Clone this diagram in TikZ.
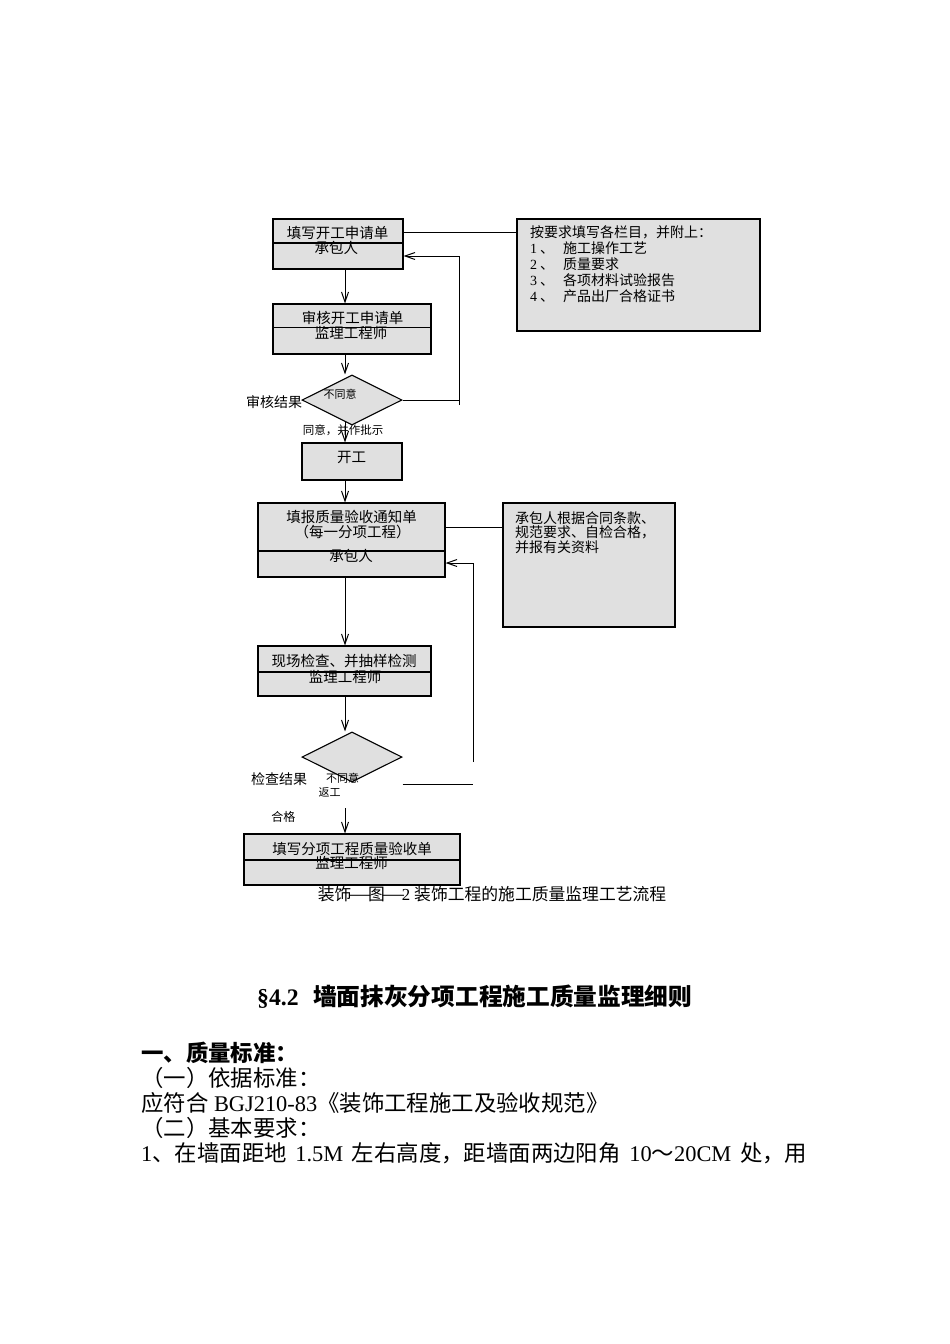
\documentclass[tikz,border=0pt]{standalone}
\usepackage{fontspec}
\usepackage{graphicx}
\setmainfont{Liberation Serif}
\newfontfamily\cjk{Noto Sans CJK SC}
\usetikzlibrary{arrows.meta,shapes.geometric}
\definecolor{boxgray}{RGB}{224,224,224}
\newcommand{\fsz}[1]{\fontsize{#1}{#1}\selectfont}
\newcommand{\en}[1]{{\rmfamily #1}}
\newcommand{\dash}{\makebox[1em][c]{\scalebox{1.6}[1]{—}}}

\begin{document}
\begin{tikzpicture}[x=1pt,y=1pt,
  box/.style={draw,fill=boxgray,line width=1.1pt,inner sep=0pt},
  decide/.style={diamond,aspect=2,draw,fill=boxgray,line width=1.1pt,inner sep=0pt,minimum width=100,minimum height=50},
  txt/.style={inner sep=0pt,font=\cjk\fsz{14.5}},
  small/.style={inner sep=0pt,font=\cjk\fsz{11}},
  item/.style={inner sep=0pt,anchor=west,font=\cjk\fsz{14}},
  body/.style={inner sep=0pt,anchor=base west,font=\cjk\fsz{22.4}},
  link/.style={line width=1pt},
  flow/.style={line width=1pt,-{Straight Barb[length=10pt,width=7pt]}}]
\useasboundingbox (0,0) rectangle (950,-1344);

% boxes of the flow
\node[box,minimum width=130,minimum height=50] (apply) at (338,-244) {};
\node[box,minimum width=158,minimum height=50] (review) at (352,-329) {};
\node[decide] (check1) at (352,-400) {};
\node[box,minimum width=100,minimum height=37] (start) at (352,-461.5) {};
\node[box,minimum width=187,minimum height=74] (notice) at (351.5,-540) {};
\node[box,minimum width=173,minimum height=50] (inspect) at (344.5,-671) {};
\node[decide] (check2) at (352,-757) {};
\node[box,minimum width=216,minimum height=51] (accept) at (352,-859.5) {};
\node[box,minimum width=243,minimum height=112] (note1) at (638.5,-275) {};
\node[box,minimum width=172,minimum height=124] (note2) at (589,-565) {};

% dividers
\draw[line width=1.1pt] ([yshift=1]apply.west) -- ([yshift=1]apply.east);
\draw[line width=1.1pt] ([yshift=1.7]review.west) -- ([yshift=1.7]review.east);
\draw[line width=1.1pt] ([yshift=-11]notice.west) -- ([yshift=-11]notice.east);
\draw[line width=1.1pt] ([yshift=-1]inspect.west) -- ([yshift=-1]inspect.east);
\draw[line width=1.1pt] ([yshift=-0.5]accept.west) -- ([yshift=-0.5]accept.east);

% box texts
\node[txt] (applyA) at (337.5,-232.8) {填写开工申请单};
\node[txt] (applyB) at (336.3,-248.3) {承包人};
\node[txt] (reviewA) at (352.5,-317.5) {审核开工申请单};
\node[txt] (reviewB) at (351,-333.3) {监理工程师};
\node[txt] (startA) at (351.7,-457) {开工};
\node[txt] (noticeA) at (351.7,-517) {填报质量验收通知单};
\node[txt] (noticeB) at (352.5,-532) {（每一分项工程）};
\node[txt] (noticeC) at (351,-555.7) {承包人};
\node[txt] (inspectA) at (344,-661.3) {现场检查、并抽样检测};
\node[txt] (inspectB) at (345,-676.7) {监理工程师};
\node[txt] (acceptA) at (352,-848.5) {填写分项工程质量验收单};
\node[txt] (acceptB) at (351.7,-863) {监理工程师};

% notes
\node[item] (n1) at (530,-232) {按要求填写各栏目，并附上：};
\node[item] (n2) at (530,-248) {\makebox[33pt][l]{\en{1}\hspace{3pt}、}施工操作工艺};
\node[item] (n3) at (530,-264) {\makebox[33pt][l]{\en{2}\hspace{3pt}、}质量要求};
\node[item] (n4) at (530,-280) {\makebox[33pt][l]{\en{3}\hspace{3pt}、}各项材料试验报告};
\node[item] (n5) at (530,-296) {\makebox[33pt][l]{\en{4}\hspace{3pt}、}产品出厂合格证书};
\node[item] (m1) at (515,-518) {承包人根据合同条款、};
\node[item] (m2) at (515,-532.5) {规范要求、自检合格，};
\node[item] (m3) at (515,-547) {并报有关资料};

% decision labels
\node[txt,font=\cjk\fsz{14}] (res1) at (274,-401.7) {审核结果};
\node[small] (no1) at (340,-394) {不同意};
\node[small,font=\cjk\fsz{11.5}] (yes1) at (343,-430) {同意，并作批示};
\node[txt,font=\cjk\fsz{14}] (res2) at (279,-778.7) {检查结果};
\node[small] (no2) at (342.5,-778.5) {不同意};
\node[small] (redo) at (329.5,-792) {返工};
\node[small,font=\cjk\fsz{12}] (ok) at (283.3,-816.7) {合格};

% connectors
\coordinate (axis) at (345,0);
\coordinate (ret1) at (459,-405);
\coordinate (ret2) at (473,-762);
\coordinate (cut2) at (473,-784);
\coordinate (pass) at (345,-808);
\coordinate (applyR) at ([yshift=12]apply.east);
\coordinate (applyIn) at ([yshift=-12]apply.east);
\coordinate (noticeR) at ([yshift=13]notice.east);
\coordinate (noticeIn) at ([yshift=-23]notice.east);
\path[flow]
(apply.south -| axis) edge (review.north -| axis)
(review.south -| axis) edge (check1.north -| axis)
(check1.252 -| axis) edge (start.north -| axis)
(start.south -| axis) edge (notice.north -| axis)
(notice.south -| axis) edge (inspect.north -| axis)
(inspect.south -| axis) edge (check2.north -| axis)
(pass) edge (accept.north -| pass);
\draw[flow] (ret1) |- (applyIn);
\draw[flow] (ret2) |- (noticeIn);
\draw[link] (check1.east) -- (check1.east -| ret1);
\draw[link] (cut2 -| check2.east) -- (cut2);
\draw[link] (applyR) -- (applyR -| note1.west);
\draw[link] (noticeR) -- (noticeR -| note2.west);

% caption and text below
\node[txt,font=\cjk\fsz{16.8}] (caption) at (492,-894) {装饰\dash 图\dash\en{2}\hspace{4pt}装饰工程的施工质量监理工艺流程};
\node[body,font=\cjk\bfseries\fsz{23.7}] (title) at (257,-1005) {\en{§4.2}\hspace{14.5pt}墙面抹灰分项工程施工质量监理细则};
\node[body,font=\cjk\bfseries\fsz{22.4}] (std) at (141,-1061.5) {一、质量标准：};
\node[body] (basis) at (141,-1086) {（一）依据标准：};
\node[body] (code) at (141,-1111) {应符合\en{ BGJ210-83}《装饰工程施工及验收规范》};
\node[body] (req) at (141,-1136) {（二）基本要求：};
\node[body] (item1) at (141,-1161.5) {\makebox[666pt][s]{\en{1}、在墙面距地\en{ 1.5M }左右高度，距墙面两边阳角\en{ 10}～\en{20CM }处，用}};
\end{tikzpicture}
\end{document}
